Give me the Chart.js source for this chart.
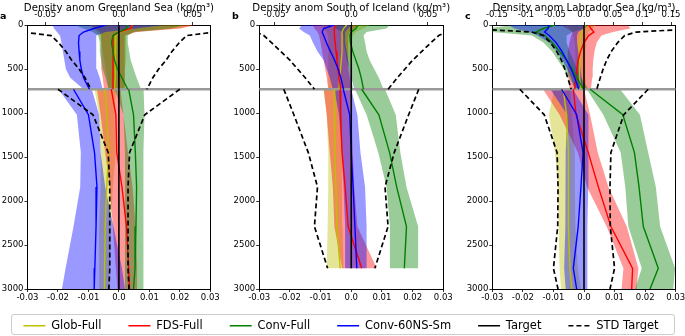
<!DOCTYPE html>
<html>
<head>
<meta charset="utf-8">
<script src="https://cdn.jsdelivr.net/npm/chart.js@4.4.1/dist/chart.umd.min.js"></script>
<style>
  body { margin: 0; background: #fff; }
  #wrap { position: relative; width: 685px; height: 336px; overflow: hidden; }
  canvas { position: absolute; left: 0; top: 0; }
  .lab { position: absolute; font: bold 9.5px "DejaVu Sans"; line-height: 1; color: #000; }
  #legframe { position: absolute; left: 11px; top: 314px; width: 662px; height: 19px;
              border: 1px solid #cccccc; border-radius: 3px; }
</style>
</head>
<body>
<div id="wrap">
  <div id="legframe"></div>
  <canvas id="pa" width="760" height="336"></canvas>
  <canvas id="pb" width="760" height="336"></canvas>
  <canvas id="pc" width="760" height="336"></canvas>
  <canvas id="leg" width="720" height="120" style="top:293px;left:-19px"></canvas>
  <div class="lab" style="left:0px;top:11px">a</div>
  <div class="lab" style="left:232px;top:11px">b</div>
  <div class="lab" style="left:465px;top:11px">c</div>
</div>
<script>
// depth levels (m)
const depthUp = [0, 40, 80, 120, 200, 300, 400, 500, 600, 730];
const depthDn = [730, 1020, 1450, 1840, 2290, 2765, 3000];
const depthDnB = [730, 1020, 1450, 1840, 2290, 2765];
const splitDepth = 730;
const targetAnom = 0;
const xLowLim = 0.03;

// legend
const legendLabels = ['Glob-Full', 'FDS-Full', 'Conv-Full', 'Conv-60NS-Sm', 'Target', 'STD Target'];
const legendColors = ['#bfbf00', '#ff0000', '#008000', '#0000ff', '#000000', '#000000'];
const legendDash = [[], [], [], [], [], [5, 3]];
const lineColors = ['#bfbf00', '#ff0000', '#008000', '#0000ff'];
const bandColors = ['rgba(191,191,0,0.4)', 'rgba(255,0,0,0.4)', 'rgba(0,128,0,0.4)', 'rgba(0,0,255,0.4)'];

// ---- a: Greenland Sea ----
const A_glob_up    = [0.009, 0.008, 0.001, -0.002, -0.0025, -0.0025, -0.0025, -0.0025, -0.0025, -0.003];
const A_glob_up_lo = [-0.02, -0.018, -0.015, -0.013, -0.012, -0.011, -0.010, -0.009, -0.008, -0.007];
const A_glob_up_hi = [0.05, 0.04, 0.01, 0.005, 0.005, 0.005, 0.005, 0.004, 0.004, 0.004];
const A_fds_up     = [0.009, 0.008, 0.0, -0.004, -0.004, -0.004, -0.004, -0.004, -0.004, -0.004];
const A_fds_up_lo  = [-0.02, -0.016, -0.013, -0.012, -0.012, -0.012, -0.012, -0.012, -0.011, -0.010];
const A_fds_up_hi  = [0.052, 0.042, 0.012, 0.004, 0.004, 0.004, 0.004, 0.004, 0.004, 0.004];
const A_conv_up    = [0.006, 0.005, 0.0, -0.004, -0.005, -0.004, -0.003, -0.001, 0.002, 0.006];
const A_conv_up_lo = [-0.03, -0.024, -0.018, -0.014, -0.013, -0.013, -0.012, -0.011, -0.009, -0.007];
const A_conv_up_hi = [0.045, 0.035, 0.01, 0.006, 0.006, 0.007, 0.008, 0.010, 0.012, 0.015];
const A_c60_up     = [-0.009, -0.017, -0.024, -0.027, -0.0274, -0.027, -0.0265, -0.0255, -0.024, -0.020];
const A_c60_up_lo  = [-0.045, -0.044, -0.042, -0.040, -0.039, -0.038, -0.037, -0.036, -0.033, -0.024];
const A_c60_up_hi  = [0.03, 0.012, -0.009, -0.015, -0.0155, -0.0155, -0.0155, -0.015, -0.013, -0.011];
const A_std_up     = [0.12, 0.1, 0.065, 0.046, 0.041, 0.036, 0.032, 0.027, 0.023, 0.019];

const A_glob_dn    = [-0.0045, -0.004, -0.0034, -0.004, -0.0045, -0.0047, -0.0047];
const A_glob_dn_lo = [-0.008, -0.0065, -0.006, -0.006, -0.0065, -0.0065, -0.0065];
const A_glob_dn_hi = [-0.001, -0.0015, -0.001, -0.002, -0.0025, -0.003, -0.003];
const A_fds_dn     = [-0.0025, -0.001, -0.0007, 0.001, 0.0025, 0.0032, 0.0035];
const A_fds_dn_lo  = [-0.0072, -0.006, -0.0045, -0.003, -0.002, -0.001, -0.0005];
const A_fds_dn_hi  = [0.0005, 0.0015, 0.003, 0.0045, 0.0055, 0.006, 0.0062];
const A_conv_dn    = [0.0032, 0.0048, 0.0054, 0.0058, 0.0056, 0.0053, 0.0048];
const A_conv_dn_lo = [-0.0014, 0.0015, 0.002, 0.002, 0.002, 0.002, 0.002];
const A_conv_dn_hi = [0.0081, 0.0084, 0.0082, 0.008, 0.008, 0.008, 0.0082];
const A_c60_dn     = [-0.0149, -0.010, -0.008, -0.0072, -0.0075, -0.0079, -0.0081];
const A_c60_dn_lo  = [-0.0198, -0.0138, -0.0125, -0.0127, -0.0149, -0.0175, -0.0187];
const A_c60_dn_hi  = [-0.0089, -0.0065, -0.006, -0.0045, -0.0018, 0.001, 0.002];
const A_std_dn     = [0.020, 0.0085, 0.0035, 0.003, 0.003, 0.003, 0.0033];

// ---- b: South of Iceland ----
const B_glob_up    = [-0.003, -0.005, -0.006, -0.006, -0.006, -0.006, -0.0065, -0.007, -0.0075, -0.008];
const B_glob_up_lo = [-0.02, -0.018, -0.016, -0.015, -0.015, -0.015, -0.015, -0.015, -0.015, -0.015];
const B_glob_up_hi = [0.012, 0.008, 0.003, 0.001, 0.0, 0.0, 0.0, 0.0, 0.0, 0.0];
const B_fds_up     = [-0.0097, -0.011, -0.011, -0.011, -0.0105, -0.0099, -0.0093, -0.0086, -0.008, -0.0068];
const B_fds_up_lo  = [-0.025, -0.024, -0.022, -0.021, -0.020, -0.019, -0.018, -0.017, -0.016, -0.015];
const B_fds_up_hi  = [0.005, 0.002, -0.001, -0.002, -0.002, -0.002, -0.002, -0.002, -0.001, 0.0];
const B_conv_up    = [0.0045, 0.003, 0.0, -0.001, -0.0005, 0.001, 0.003, 0.005, 0.0065, 0.008];
const B_conv_up_lo = [-0.012, -0.01, -0.006, -0.005, -0.005, -0.004, -0.003, -0.001, 0.0, 0.002];
const B_conv_up_hi = [0.025, 0.023, 0.010, 0.008, 0.009, 0.010, 0.012, 0.015, 0.018, 0.021];
const B_c60_up     = [-0.0114, -0.018, -0.019, -0.018, -0.0162, -0.0136, -0.0108, -0.0086, -0.0068, -0.005];
const B_c60_up_lo  = [-0.032, -0.034, -0.031, -0.027, -0.025, -0.022, -0.018, -0.016, -0.014, -0.012];
const B_c60_up_hi  = [0.0, -0.002, -0.004, -0.004, -0.004, -0.003, -0.002, -0.001, 0.0, 0.001];
const B_std_up     = [0.1, 0.085, 0.062, 0.057, 0.052, 0.046, 0.04, 0.035, 0.030, 0.024];

const B_glob_dn    = [-0.0055, -0.0055, -0.0053, -0.005, -0.0047, -0.0036];
const B_glob_dn_lo = [-0.009, -0.008, -0.0075, -0.0075, -0.0077, -0.008];
const B_glob_dn_hi = [-0.003, -0.003, -0.003, -0.003, -0.0028, -0.0025];
const B_fds_dn     = [-0.0036, -0.0035, -0.003, -0.002, -0.001, 0.0034];
const B_fds_dn_lo  = [-0.009, -0.008, -0.007, -0.006, -0.0055, -0.003];
const B_fds_dn_hi  = [0.0, 0.0, 0.0005, 0.001, 0.002, 0.0083];
const B_conv_dn    = [0.0034, 0.009, 0.0125, 0.0148, 0.018, 0.0173];
const B_conv_dn_lo = [0.0012, 0.005, 0.0088, 0.0115, 0.0126, 0.0126];
const B_conv_dn_hi = [0.011, 0.0145, 0.016, 0.018, 0.0218, 0.0218];
const B_c60_dn     = [-0.0026, -0.0005, 0.0, 0.0006, 0.0012, 0.0018];
const B_c60_dn_lo  = [-0.0055, -0.004, -0.003, -0.0025, -0.002, -0.002];
const B_c60_dn_hi  = [0.0, 0.002, 0.003, 0.0045, 0.005, 0.005];
const B_std_dn     = [0.022, 0.0187, 0.014, 0.011, 0.012, 0.0077];

// ---- c: Labrador Sea ----
const C_glob_up    = [0.002, 0.0, -0.004, -0.006, -0.007, -0.008, -0.008, -0.008, -0.007, -0.005];
const C_glob_up_lo = [-0.03, -0.025, -0.02, -0.018, -0.016, -0.015, -0.015, -0.014, -0.013, -0.012];
const C_glob_up_hi = [0.02, 0.015, 0.008, 0.006, 0.004, 0.003, 0.002, 0.002, 0.003, 0.004];
const C_fds_up     = [0.008, 0.012, 0.017, 0.008, 0.0, -0.006, -0.010, -0.012, -0.014, -0.016];
const C_fds_up_lo  = [-0.04, -0.03, -0.02, -0.022, -0.025, -0.028, -0.028, -0.028, -0.027, -0.025];
const C_fds_up_hi  = [0.075, 0.08, 0.05, 0.03, 0.022, 0.018, 0.016, 0.015, 0.014, 0.012];
const C_conv_up    = [-0.05, -0.07, -0.083, -0.068, -0.055, -0.042, -0.030, -0.020, -0.012, -0.001];
const C_conv_up_lo = [-0.12, -0.17, -0.16, -0.09, -0.07, -0.055, -0.045, -0.035, -0.025, -0.015];
const C_conv_up_hi = [0.01, 0.0, -0.02, -0.03, -0.03, -0.025, -0.018, -0.012, -0.005, 0.008];
const C_c60_up     = [-0.06, -0.062, -0.068, -0.06, -0.048, -0.038, -0.030, -0.022, -0.016, -0.009];
const C_c60_up_lo  = [-0.13, -0.12, -0.095, -0.08, -0.06, -0.047, -0.037, -0.029, -0.022, -0.016];
const C_c60_up_hi  = [0.005, 0.0, -0.01, -0.012, -0.012, -0.010, -0.008, -0.006, -0.004, -0.001];
const C_std_up     = [0.22, 0.2, 0.09, 0.07, 0.058, 0.047, 0.039, 0.033, 0.028, 0.022];

const C_glob_dn    = [-0.0068, -0.0057, -0.0051, -0.0051, -0.0051, -0.0046, -0.004];
const C_glob_dn_lo = [-0.0098, -0.0115, -0.0095, -0.0085, -0.0083, -0.008, -0.0075];
const C_glob_dn_hi = [-0.0045, -0.004, -0.003, -0.003, -0.0028, -0.002, -0.001];
const C_fds_dn     = [-0.0035, -0.0026, 0.0014, 0.0047, 0.0088, 0.0159, 0.0156];
const C_fds_dn_lo  = [-0.0134, -0.008, -0.002, 0.001, 0.0074, 0.0129, 0.0123];
const C_fds_dn_hi  = [0.0, 0.002, 0.0045, 0.008, 0.014, 0.0178, 0.0172];
const C_conv_dn    = [0.002, 0.0127, 0.0165, 0.018, 0.0194, 0.0243, 0.0216];
const C_conv_dn_lo = [0.0009, 0.0063, 0.012, 0.0135, 0.0145, 0.0189, 0.0167];
const C_conv_dn_hi = [0.0118, 0.0183, 0.021, 0.0235, 0.0249, 0.0298, 0.0292];
const C_c60_dn     = [-0.0073, -0.0024, -0.0003, -0.001, -0.0019, -0.0035, -0.0024];
const C_c60_dn_lo  = [-0.011, -0.0055, -0.006, -0.0062, -0.006, -0.0065, -0.006];
const C_c60_dn_hi  = [-0.0036, 0.0014, 0.0015, 0.0014, 0.0012, 0.001, 0.0011];
const C_std_dn     = [0.021, 0.013, 0.0088, 0.0085, 0.0086, 0.010, 0.0085];

Chart.defaults.font.family = 'DejaVu Sans';
Chart.defaults.color = '#000';

const pts = (xs, ys) => xs.map((x, i) => ({x: x, y: ys[i]}));
// closed polygon: low edge down, high edge back up
const band = (lo, hi, ys) => pts(lo, ys).concat(pts(hi, ys).reverse());
const fmt = (v) => v === 0 ? '0.0' : String(Math.round(v * 1000) / 1000);

const canvasW = 760;
const yAxisW = 27;

const panels = [
  {canvas: 'pa', title: 'Density anom Greenland Sea (kg/m³)', left: 27.5, right: 210.3, topLim: 0.062, depthDn: depthDn,
   up: [[A_glob_up, A_glob_up_lo, A_glob_up_hi], [A_fds_up, A_fds_up_lo, A_fds_up_hi],
        [A_conv_up, A_conv_up_lo, A_conv_up_hi], [A_c60_up, A_c60_up_lo, A_c60_up_hi]],
   dn: [[A_glob_dn, A_glob_dn_lo, A_glob_dn_hi], [A_fds_dn, A_fds_dn_lo, A_fds_dn_hi],
        [A_conv_dn, A_conv_dn_lo, A_conv_dn_hi], [A_c60_dn, A_c60_dn_lo, A_c60_dn_hi]],
   stdUp: A_std_up, stdDn: A_std_dn},
  {canvas: 'pb', title: 'Density anom South of Iceland (kg/m³)', left: 259.2, right: 443.3, topLim: 0.060, depthDn: depthDnB,
   up: [[B_glob_up, B_glob_up_lo, B_glob_up_hi], [B_fds_up, B_fds_up_lo, B_fds_up_hi],
        [B_conv_up, B_conv_up_lo, B_conv_up_hi], [B_c60_up, B_c60_up_lo, B_c60_up_hi]],
   dn: [[B_glob_dn, B_glob_dn_lo, B_glob_dn_hi], [B_fds_dn, B_fds_dn_lo, B_fds_dn_hi],
        [B_conv_dn, B_conv_dn_lo, B_conv_dn_hi], [B_c60_dn, B_c60_dn_lo, B_c60_dn_hi]],
   stdUp: B_std_up, stdDn: B_std_dn},
  {canvas: 'pc', title: 'Density anom Labrador Sea (kg/m³)', left: 492.3, right: 675.7, topLim: 0.158, depthDn: depthDn,
   up: [[C_glob_up, C_glob_up_lo, C_glob_up_hi], [C_fds_up, C_fds_up_lo, C_fds_up_hi],
        [C_conv_up, C_conv_up_lo, C_conv_up_hi], [C_c60_up, C_c60_up_lo, C_c60_up_hi]],
   dn: [[C_glob_dn, C_glob_dn_lo, C_glob_dn_hi], [C_fds_dn, C_fds_dn_lo, C_fds_dn_hi],
        [C_conv_dn, C_conv_dn_lo, C_conv_dn_hi], [C_c60_dn, C_c60_dn_lo, C_c60_dn_hi]],
   stdUp: C_std_up, stdDn: C_std_dn}
];

function makeDatasets(p) {
  const ds = [];
  const parts = [
    {axis: 'xt', ys: depthUp, s: p.up, std: p.stdUp},
    {axis: 'x', ys: p.depthDn, s: p.dn, std: p.stdDn}
  ];
  // shaded spread
  parts.forEach(part => part.s.forEach((s, i) => {
    ds.push({data: band(s[1], s[2], part.ys), xAxisID: part.axis, fill: 'shape',
             backgroundColor: bandColors[i], borderColor: 'rgba(0,0,0,0)', borderWidth: 0});
  }));
  // gray split line
  ds.push({data: [{x: -xLowLim, y: splitDepth}, {x: xLowLim, y: splitDepth}], xAxisID: 'x',
           borderColor: '#999999', borderWidth: 2.5});
  // ensemble means
  parts.forEach(part => part.s.forEach((s, i) => {
    ds.push({data: pts(s[0], part.ys), xAxisID: part.axis, borderColor: lineColors[i], borderWidth: 1.4});
  }));
  // target
  parts.forEach(part => {
    const last = part.ys[part.ys.length - 1];
    ds.push({data: [{x: targetAnom, y: part.ys[0]}, {x: targetAnom, y: last}], xAxisID: part.axis,
             borderColor: '#000', borderWidth: 1.6});
  });
  // +/- std of target
  parts.forEach(part => [1, -1].forEach(sg => {
    ds.push({data: pts(part.std.map(v => sg * v), part.ys), xAxisID: part.axis,
             borderColor: '#000', borderWidth: 1.7, borderDash: [5, 3]});
  }));
  ds.forEach((d, i) => {
    d.order = ds.length - i;
    d.yAxisID = 'y';
    d.pointRadius = 0;
    if (d.fill === undefined) d.fill = false;
  });
  return ds;
}

const tickFont = {family: 'DejaVu Sans', size: 8.5};
const gridOpts = {drawOnChartArea: false, tickLength: 3, color: '#000', lineWidth: 0.8};
const borderOpts = {color: '#000', width: 1};

function makeChart(p) {
  new Chart(document.getElementById(p.canvas), {
    type: 'line',
    data: {datasets: makeDatasets(p)},
    options: {
      responsive: false,
      animation: false,
      events: [],
      layout: {padding: {left: p.left - yAxisW, right: canvasW - p.right - yAxisW, top: 0, bottom: 27}},
      elements: {point: {radius: 0}, line: {tension: 0}},
      plugins: {
        legend: {display: false},
        tooltip: {enabled: false},
        title: {display: true, text: p.title, color: '#000',
                font: {family: 'DejaVu Sans', size: 10.2, weight: 'normal'}, padding: {top: 2, bottom: -5}}
      },
      scales: {
        x: {type: 'linear', position: 'bottom', min: -xLowLim, max: xLowLim,
            ticks: {stepSize: 0.01, callback: fmt, font: tickFont, color: '#000', padding: 1, maxRotation: 0, autoSkip: false},
            grid: gridOpts, border: borderOpts,
            afterFit: (s) => { s.height = 20; }},
        xt: {type: 'linear', position: 'top', min: -p.topLim, max: p.topLim,
             ticks: {stepSize: 0.05, includeBounds: false, callback: fmt, font: tickFont, color: '#000', padding: 2, maxRotation: 0, autoSkip: false},
             grid: gridOpts, border: borderOpts,
             afterFit: (s) => { s.height = 15.76; }},
        y: {type: 'linear', position: 'left', reverse: true, min: 0, max: 3000,
            ticks: {stepSize: 500, callback: (v) => String(v), font: tickFont, color: '#000', padding: 1},
            grid: gridOpts, border: borderOpts,
            afterFit: (s) => { s.width = yAxisW; }},
        yr: {type: 'linear', position: 'right', min: 0, max: 3000,
             ticks: {display: false}, grid: {display: false}, border: borderOpts,
             afterFit: (s) => { s.width = yAxisW; }}
      }
    }
  });
}

panels.forEach(makeChart);

// shared legend along the bottom
new Chart(document.getElementById('leg'), {
  type: 'line',
  data: {datasets: []},
  options: {
    responsive: false,
    animation: false,
    events: [],
    scales: {x: {display: false}, y: {display: false}},
    plugins: {
      tooltip: {enabled: false},
      legend: {
        display: true,
        position: 'top',
        labels: {
          usePointStyle: true,
          pointStyleWidth: 22,
          padding: 27,
          color: '#000',
          font: {family: 'DejaVu Sans', size: 11.5},
          generateLabels: () => legendLabels.map((t, i) => ({
            text: t, strokeStyle: legendColors[i], fillStyle: legendColors[i],
            lineWidth: 1.5, lineDash: legendDash[i], pointStyle: 'line', hidden: false
          }))
        }
      }
    }
  }
});
</script>
</body>
</html>
